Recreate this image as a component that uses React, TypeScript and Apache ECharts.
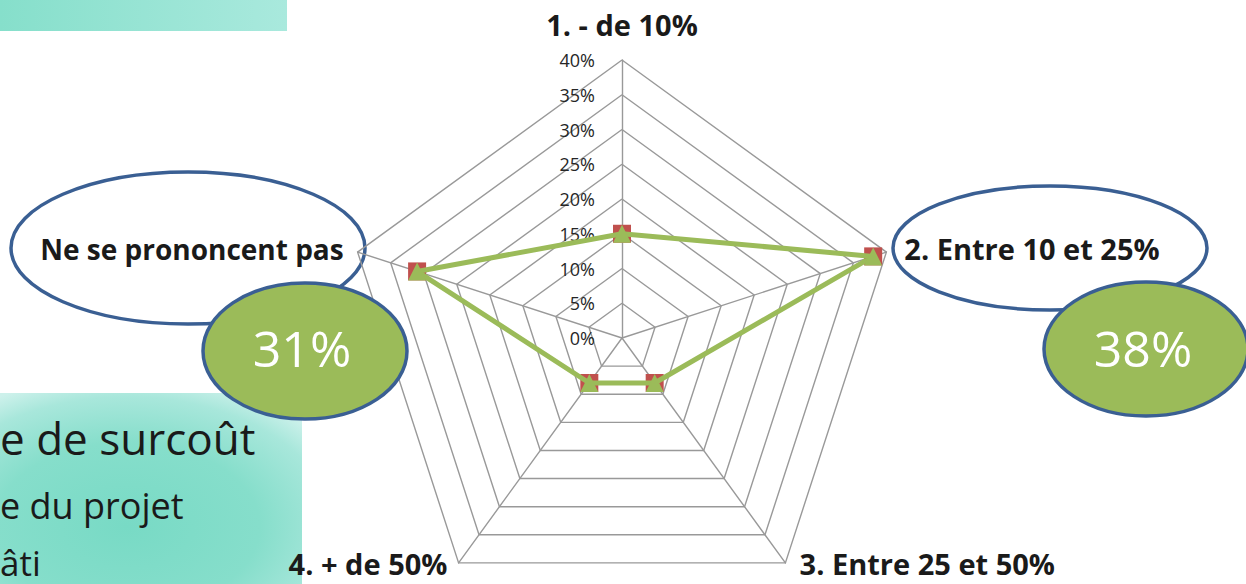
import React, { useEffect, useRef } from 'react';
import * as echarts from 'echarts';

// ---- data ----
const categories = ['1. - de 10%', '2. Entre 10 et 25%', '3. Entre 25 et 50%', '4. + de 50%', 'Ne se prononcent pas'];
const values = [15, 38, 8, 8, 31];
const axisMin = 0;
const axisMax = 40;
const axisStep = 5;
const calloutLabels = ['31%', '38%'];
const slideLines = ['e de surcoût', 'e du projet', 'âti'];

const FONT = "'Open Sans', 'DejaVu Sans', sans-serif";
// ECharts radar lays indicators out counter-clockwise from the top
const layoutOrder = [0, 4, 3, 2, 1];

const namePad: Record<number, number[]> = {
  0: [0, 0, 19, 0],
  1: [0, 0, 5, 16],
  2: [0, 0, 2, 13],
  3: [0, 10, 2, 0],
  4: [0, 12, 5, 0],
};
const nameSize: Record<number, number> = { 0: 29, 1: 29, 2: 29, 3: 29, 4: 28 };

const CX = 622;
const CY = 338;
const R = 278;
const BLUE = '#3A5F93';
const GREEN = '#9BBB59';

export default function App() {
  const ref = useRef<HTMLDivElement>(null);
  useEffect(() => {
    if (!ref.current) return;
    const chart = echarts.init(ref.current, undefined, { renderer: 'svg' });
    const rich: Record<string, any> = {};
    categories.forEach((_, i) => {
      const s: any = {
        fontFamily: FONT,
        fontSize: nameSize[i],
        fontWeight: 'bold',
        color: '#1a1a1a',
        padding: namePad[i],
      };
      if (i === 2 || i === 3) s.lineHeight = 27;
      rich['n' + i] = s;
    });
    const radarValues = layoutOrder.map((i) => values[i]);
    const option: any = {
      animation: false,
      polar: { center: [CX, CY], radius: R },
      angleAxis: { type: 'value', show: false, startAngle: 90, min: 0, max: 360 },
      radiusAxis: {
        type: 'value',
        min: axisMin,
        max: axisMax,
        interval: axisStep,
        z: 6,
        axisLine: { show: false },
        axisTick: { show: false },
        splitLine: { show: false },
        axisLabel: {
          formatter: '{value}%',
          fontSize: 18,
          fontFamily: FONT,
          color: '#262626',
          margin: 27,
        },
      },
      radar: {
        center: [CX, CY],
        radius: R,
        startAngle: 90,
        splitNumber: (axisMax - axisMin) / axisStep,
        shape: 'polygon',
        nameGap: 2,
        z: 4,
        indicator: layoutOrder.map((i) => ({ name: categories[i], min: axisMin, max: axisMax })),
        axisName: {
          formatter: (name: string) => `{n${categories.indexOf(name)}|${name}}`,
          rich,
        },
        axisLine: { lineStyle: { color: '#999999', width: 1.4 } },
        splitLine: { lineStyle: { color: '#999999', width: 1.4 } },
        splitArea: { show: false },
      },
      graphic: [
        {
          type: 'rect',
          z: 0,
          shape: { x: 0, y: 0, width: 287, height: 31 },
          style: {
            fill: new echarts.graphic.LinearGradient(0, 0, 1, 0, [
              { offset: 0, color: '#86DFCB' },
              { offset: 1, color: '#A9E9DD' },
            ]),
          },
        },
        {
          type: 'rect',
          z: 0,
          shape: { x: 0, y: 393, width: 302, height: 191 },
          style: {
            fill: new echarts.graphic.RadialGradient(0.42, 0.7, 0.8, [
              { offset: 0, color: '#78DAC5' },
              { offset: 0.55, color: '#86DECB' },
              { offset: 0.85, color: '#A8E7DB' },
              { offset: 1, color: '#CDF1EB' },
            ]),
          },
        },
        {
          type: 'text', z: 1, x: 0, y: 438,
          style: { text: slideLines[0], fontFamily: FONT, fontSize: 44, fill: '#1a1a1a', textVerticalAlign: 'middle' },
        },
        {
          type: 'text', z: 1, x: 0, y: 505,
          style: { text: slideLines[1], fontFamily: FONT, fontSize: 36, fill: '#1a1a1a', textVerticalAlign: 'middle' },
        },
        {
          type: 'text', z: 1, x: 0, y: 562,
          style: { text: slideLines[2], fontFamily: FONT, fontSize: 35, lineHeight: 30, fill: '#1a1a1a', textVerticalAlign: 'middle' },
        },
        {
          type: 'ellipse', z: 1,
          shape: { cx: 188, cy: 248, rx: 177, ry: 76 },
          style: { fill: '#ffffff', stroke: BLUE, lineWidth: 3.5 },
        },
        {
          type: 'ellipse', z: 1,
          shape: { cx: 1050, cy: 248, rx: 157, ry: 62 },
          style: { fill: '#ffffff', stroke: BLUE, lineWidth: 3.5 },
        },
        {
          type: 'ellipse', z: 20,
          shape: { cx: 305, cy: 351, rx: 102, ry: 68 },
          style: { fill: GREEN, stroke: BLUE, lineWidth: 3.5 },
        },
        {
          type: 'ellipse', z: 20,
          shape: { cx: 1146, cy: 349, rx: 102, ry: 67 },
          style: { fill: GREEN, stroke: BLUE, lineWidth: 3.5 },
        },
        {
          type: 'text', z: 21, x: 302, y: 348,
          style: { text: calloutLabels[0], fontFamily: FONT, fontSize: 50, fill: '#ffffff', textAlign: 'center', textVerticalAlign: 'middle' },
        },
        {
          type: 'text', z: 21, x: 1143, y: 348,
          style: { text: calloutLabels[1], fontFamily: FONT, fontSize: 50, fill: '#ffffff', textAlign: 'center', textVerticalAlign: 'middle' },
        },
      ],
      series: [
        {
          type: 'radar',
          z: 7,
          symbol: 'rect',
          symbolSize: 18,
          itemStyle: { color: '#C0504D' },
          lineStyle: { width: 0, opacity: 0 },
          data: [{ value: radarValues, name: 'marker' }],
        },
        {
          type: 'radar',
          z: 8,
          symbol: 'triangle',
          symbolSize: 18,
          itemStyle: { color: GREEN },
          lineStyle: { color: GREEN, width: 5 },
          data: [{ value: radarValues, name: 'line' }],
        },
      ],
    };
    chart.setOption(option);
    return () => chart.dispose();
  }, []);
  return (
    <div
      ref={ref}
      style={{ position: 'fixed', left: 0, top: 0, width: 1246, height: 584, background: '#ffffff' }}
    />
  );
}
